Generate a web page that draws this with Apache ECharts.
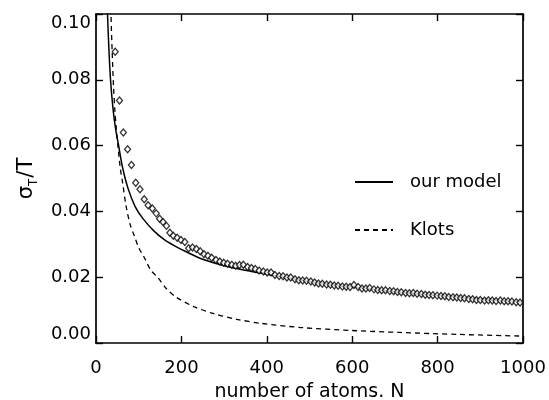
<!DOCTYPE html>
<html><head><meta charset="utf-8">
<script src="https://cdn.jsdelivr.net/npm/echarts@6/dist/echarts.min.js"></script>
<style>html,body{margin:0;padding:0;background:#fff}#c{width:549px;height:400px}</style>
</head><body><div id="c"></div>
<script>
// ---- data ----
var xTicks = ["0", "200", "400", "600", "800", "1000"];
var yTicks = ["0.00", "0.02", "0.04", "0.06", "0.08", "0.10"];

var modelN = [25, 27, 30, 34, 40, 46, 53, 62, 75, 92, 110, 136, 160, 183, 210, 253, 300, 350, 400, 463, 500, 600, 700, 800, 900, 1000];
var modelV = [0.110, 0.100, 0.090, 0.080, 0.071, 0.065, 0.060, 0.0535, 0.047, 0.0414, 0.0378, 0.0340, 0.0314, 0.0296, 0.0278, 0.0253, 0.0235, 0.0221, 0.0209, 0.0195, 0.0187, 0.0170, 0.0156, 0.0145, 0.0134, 0.0124];

var klotsN = [33, 35, 38, 41, 44, 47, 52, 57, 62, 70, 80, 90, 100, 113, 128, 144, 165, 187, 230, 276, 330, 385, 480, 600, 712, 850, 1000];
var klotsV = [0.110, 0.100, 0.088, 0.078, 0.071, 0.066, 0.059, 0.053, 0.049, 0.042, 0.036, 0.0325, 0.029, 0.026, 0.0222, 0.020, 0.0165, 0.014, 0.011, 0.0089, 0.0072, 0.0060, 0.0047, 0.0038, 0.0032, 0.0026, 0.0021];

var dataN = [45, 55, 64, 74, 83, 93, 103, 113, 122, 132, 141, 149, 157, 165, 173, 181, 190, 199, 208, 217, 226, 235, 244, 253, 262, 271, 281, 290, 299, 308, 318, 327, 336, 345, 355, 364, 373, 382, 392, 401, 410, 419, 429, 438, 447, 456, 466, 475, 484, 493, 503, 512, 521, 530, 540, 549, 558, 567, 577, 586, 595, 604, 614, 623, 632, 641, 651, 660, 669, 678, 688, 697, 706, 715, 725, 734, 743, 752, 762, 771, 780, 789, 799, 808, 817, 826, 836, 845, 854, 863, 873, 882, 891, 900, 910, 919, 928, 937, 947, 956, 965, 974, 984, 993];
var dataV = [0.0885, 0.0737, 0.0640, 0.0589, 0.0541, 0.0487, 0.0467, 0.0437, 0.0419, 0.0409, 0.0394, 0.0378, 0.0368, 0.0356, 0.0335, 0.0326, 0.0320, 0.0313, 0.0307, 0.0288, 0.0290, 0.0286, 0.0279, 0.0270, 0.0265, 0.0259, 0.0252, 0.0248, 0.0244, 0.0241, 0.0238, 0.0235, 0.0237, 0.0238, 0.0231, 0.0228, 0.0225, 0.0220, 0.0217, 0.0214, 0.0214, 0.0207, 0.0204, 0.0203, 0.0199, 0.0199, 0.0194, 0.0191, 0.0190, 0.0189, 0.0187, 0.0184, 0.0181, 0.0180, 0.0178, 0.0177, 0.0175, 0.0174, 0.0172, 0.0171, 0.0170, 0.0176, 0.0170, 0.0166, 0.0166, 0.0167, 0.0163, 0.0161, 0.0160, 0.0160, 0.0158, 0.0157, 0.0155, 0.0154, 0.0152, 0.0151, 0.0152, 0.0150, 0.0149, 0.0147, 0.0146, 0.0145, 0.0144, 0.0143, 0.0142, 0.0140, 0.0139, 0.0138, 0.0137, 0.0136, 0.0134, 0.0133, 0.0131, 0.0131, 0.0129, 0.0130, 0.0129, 0.0128, 0.0129, 0.0127, 0.0127, 0.0126, 0.0124, 0.0123];

var xTitle = "number of atoms. N";
var legendNames = ["our model", "Klots"];

function pairs(a, b) { return a.map(function (v, i) { return [v, b[i]]; }); }

var FONT = "DejaVu Sans";
var chart = echarts.init(document.getElementById('c'), null, { renderer: 'canvas' });

function tick() { return { show: true, inside: true, length: 7, lineStyle: { color: '#000', width: 1.4 } }; }
function axLine() { return { show: true, onZero: false, lineStyle: { color: '#000', width: 1.7 } }; }

chart.setOption({
  backgroundColor: '#fff',
  animation: false,
  grid: { left: 96, right: 26, top: 14, bottom: 57, show: false, containLabel: false, outerBoundsMode: 'none' },
  legend: {
    orient: 'vertical', left: 349, top: 168, itemWidth: 38, itemHeight: 14, itemGap: 30,
    data: legendNames,
    itemStyle: { opacity: 0, color: 'transparent', borderWidth: 0 },
    textStyle: { fontFamily: FONT, fontSize: 18, color: '#000', padding: [0, 0, 0, 12] }
  },
  xAxis: [{
    type: 'value', min: 0, max: 1000, interval: 200,
    axisLine: axLine(), axisTick: tick(), splitLine: { show: false },
    axisLabel: {
      margin: 16, fontFamily: FONT, fontSize: 18, color: '#000',
      formatter: function (v) { return xTicks[Math.round(v / 200)]; }
    },
    name: xTitle, nameLocation: 'middle', nameGap: 40,
    nameTextStyle: { fontFamily: FONT, fontSize: 19, color: '#000' }
  }, {
    type: 'value', position: 'top', min: 0, max: 1000, interval: 200,
    axisLine: axLine(), axisTick: tick(), axisLabel: { show: false }, splitLine: { show: false }
  }],
  yAxis: [{
    type: 'value', min: 0, max: 0.1, interval: 0.02,
    axisLine: axLine(), axisTick: tick(), splitLine: { show: false },
    axisLabel: {
      margin: 5, fontFamily: FONT, fontSize: 18, color: '#000',
      formatter: function (v) { return yTicks[Math.round(v / 0.02)]; },
      verticalAlignMaxLabel: 'top', verticalAlignMinLabel: 'bottom'
    },
    name: '{s|σ}{sub|T}{s|/T}', nameLocation: 'middle', nameRotate: 90, nameGap: 56,
    nameTextStyle: {
      color: '#000',
      rich: {
        s: { fontFamily: FONT, fontSize: 21, color: '#000', lineHeight: 26 },
        sub: { fontFamily: FONT, fontSize: 12, color: '#000', lineHeight: 10, verticalAlign: 'bottom', padding: [0, 1, 0, 0] }
      }
    }
  }, {
    type: 'value', position: 'right', min: 0, max: 0.1, interval: 0.02,
    axisLine: axLine(), axisTick: tick(), axisLabel: { show: false }, splitLine: { show: false }
  }],
  series: [{
    name: 'data', type: 'scatter', data: pairs(dataN, dataV), symbol: 'diamond', symbolSize: [6, 7],
    itemStyle: { color: '#fff', borderColor: '#000', borderWidth: 1.3 }, z: 3
  }, {
    name: legendNames[0], type: 'line', data: pairs(modelN, modelV), symbol: 'none', smooth: 0.3,
    lineStyle: { color: '#000', width: 1.5 }, itemStyle: { color: '#000' }, clip: true
  }, {
    name: legendNames[1], type: 'line', data: pairs(klotsN, klotsV), symbol: 'none', smooth: 0.3,
    lineStyle: { color: '#000', width: 1.3, type: [5, 4] }, itemStyle: { color: '#000' }, clip: true
  }]
});
</script>
</body></html>
